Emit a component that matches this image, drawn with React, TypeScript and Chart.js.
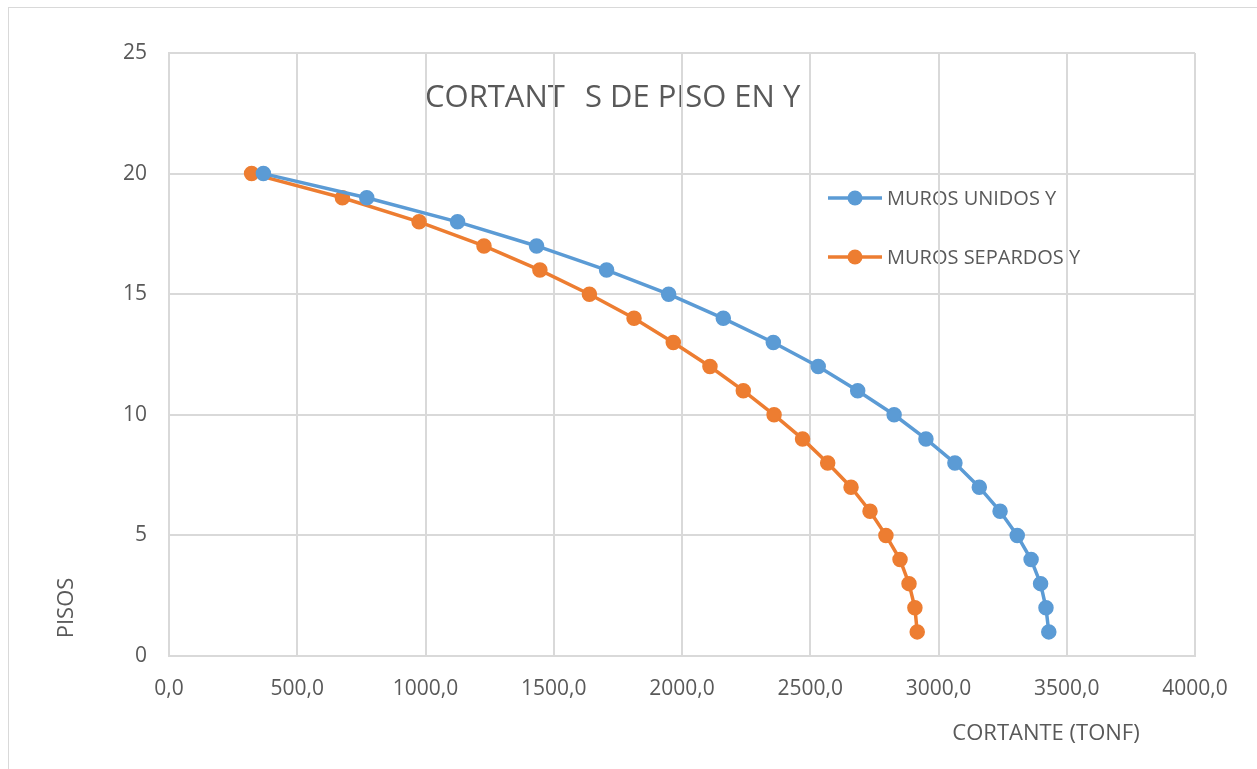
import React, { useEffect, useRef } from "react";
import { Chart, registerables } from "chart.js";

Chart.register(...registerables);

const floors = [1, 2, 3, 4, 5, 6, 7, 8, 9, 10, 11, 12, 13, 14, 15, 16, 17, 18, 19, 20];
const murosUnidos = [3430, 3419, 3398, 3361, 3307, 3240, 3159, 3064, 2951, 2827, 2685, 2531, 2356, 2161, 1948, 1706, 1433, 1125, 771, 368];
const murosSeparados = [2917, 2908, 2885, 2850, 2795, 2733, 2659, 2568, 2470, 2359, 2239, 2109, 1966, 1813, 1639, 1446, 1228, 975, 676, 322];
const seriesNames = ["MUROS UNIDOS Y", "MUROS SEPARDOS Y"];
const titleParts = ["CORTANT", "S DE PISO EN Y"];
const xTitle = "CORTANTE (TONF)";
const yTitle = "PISOS";

const BLUE = "#5B9BD5";
const ORANGE = "#ED7D31";
const GRID = "#D9D9D9";
const TEXT = "#595959";
const FONT = "'Open Sans', sans-serif";

const overlayPlugin = {
  id: "overlay",
  beforeDraw(chart: any) {
    const ctx = chart.ctx;
    ctx.save();
    ctx.strokeStyle = GRID;
    ctx.lineWidth = 1;
    ctx.strokeRect(8.5, 7.5, 1400, 900);
    ctx.fillStyle = TEXT;
    // title
    ctx.font = `31px ${FONT}`;
    ctx.textBaseline = "alphabetic";
    ctx.textAlign = "left";
    ctx.fillText(titleParts[0], 425, 107);
    ctx.fillText(titleParts[1], 585, 107);
    // legend
    const colors = [BLUE, ORANGE];
    const ys = [198, 257];
    for (let i = 0; i < 2; i++) {
      ctx.strokeStyle = colors[i];
      ctx.lineWidth = 3.5;
      ctx.beginPath();
      ctx.moveTo(828, ys[i]);
      ctx.lineTo(882, ys[i]);
      ctx.stroke();
      ctx.fillStyle = colors[i];
      ctx.beginPath();
      ctx.arc(855, ys[i], 7.5, 0, Math.PI * 2);
      ctx.fill();
      ctx.fillStyle = TEXT;
      ctx.font = `20px ${FONT}`;
      ctx.textBaseline = "middle";
      ctx.fillText(seriesNames[i], 887, ys[i] + 1);
    }
    // axis titles
    ctx.font = `22px ${FONT}`;
    ctx.textAlign = "center";
    ctx.textBaseline = "alphabetic";
    ctx.fillText(xTitle, 1046, 740);
    ctx.save();
    ctx.translate(73, 608);
    ctx.rotate(-Math.PI / 2);
    ctx.fillText(yTitle, 0, 0);
    ctx.restore();
    ctx.restore();
  },
};

export default function App() {
  const ref = useRef<HTMLCanvasElement>(null);
  useEffect(() => {
    if (!ref.current) return;
    const chart = new Chart(ref.current, {
      type: "scatter",
      data: {
        datasets: [
          {
            label: seriesNames[0],
            data: floors.map((f, i) => ({ x: murosUnidos[i], y: f })),
            borderColor: BLUE,
            backgroundColor: BLUE,
            showLine: true,
            borderWidth: 3.5,
            pointRadius: 7,
            pointBorderWidth: 1.5,
            pointHoverRadius: 7,
          },
          {
            label: seriesNames[1],
            data: floors.map((f, i) => ({ x: murosSeparados[i], y: f })),
            borderColor: ORANGE,
            backgroundColor: ORANGE,
            showLine: true,
            borderWidth: 3.5,
            pointRadius: 7,
            pointBorderWidth: 1.5,
            pointHoverRadius: 7,
          },
        ],
      },
      options: {
        responsive: false,
        animation: false,
        layout: { padding: { top: 53, right: 62, left: 0, bottom: 0 } },
        plugins: { legend: { display: false }, title: { display: false }, tooltip: { enabled: false } },
        scales: {
          x: {
            type: "linear",
            min: 0,
            max: 4000,
            afterFit: (s: any) => { s.height = 113; },
            ticks: {
              stepSize: 500,
              padding: 20,
              color: TEXT,
              font: { family: FONT, size: 21 },
              callback: (v: any) => Number(v).toFixed(1).replace(".", ","),
            },
            grid: { color: GRID, lineWidth: 2, drawTicks: false },
            border: { color: GRID, width: 2 },
          },
          y: {
            type: "linear",
            min: 0,
            max: 25,
            afterFit: (s: any) => { s.width = 169; },
            ticks: {
              stepSize: 5,
              padding: 22,
              color: TEXT,
              font: { family: FONT, size: 21 },
            },
            grid: { color: GRID, lineWidth: 2, drawTicks: false },
            border: { color: GRID, width: 2 },
          },
        },
      },
      plugins: [overlayPlugin],
    });
    return () => chart.destroy();
  }, []);
  return (
    <div style={{ position: "absolute", left: 0, top: 0, width: 1257, height: 769, overflow: "hidden" }}>
      <canvas ref={ref} width={1257} height={769} style={{ display: "block" }} />
    </div>
  );
}
